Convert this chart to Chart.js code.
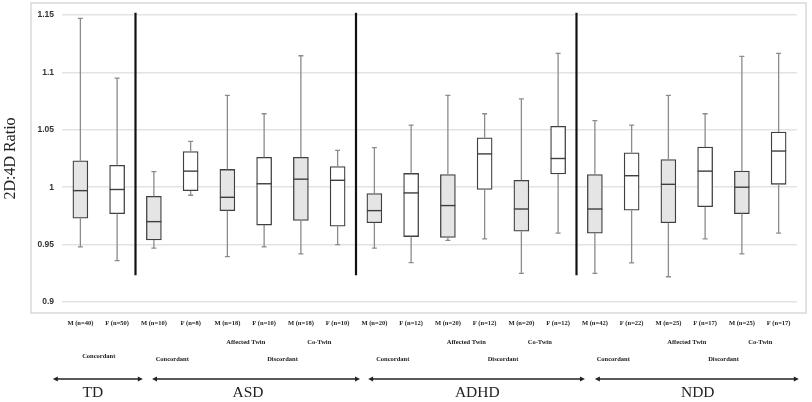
<!DOCTYPE html>
<html>
<head>
<meta charset="utf-8">
<script src="https://cdn.jsdelivr.net/npm/chart.js@4"></script>
<style>
  html, body { margin: 0; padding: 0; background: #fff; }
  #wrap { width: 812px; height: 402px; position: relative; }
</style>
</head>
<body>
<div id="wrap"><canvas id="myChart"></canvas></div>
<script>
// data
const categories = [
  "M (n=40)", "F (n=50)",
  "M (n=10)", "F (n=8)", "M (n=18)", "F (n=10)", "M (n=18)", "F (n=10)",
  "M (n=20)", "F (n=12)", "M (n=20)", "F (n=12)", "M (n=20)", "F (n=12)",
  "M (n=42)", "F (n=22)", "M (n=25)", "F (n=17)", "M (n=25)", "F (n=17)"
];
const whiskerLow = [0.948, 0.936, 0.947, 0.993, 0.9395, 0.948, 0.942, 0.950,
  0.947, 0.9343, 0.9537, 0.955, 0.925, 0.960, 0.925, 0.934, 0.922, 0.955, 0.942, 0.960];
const q1 = [0.973, 0.977, 0.954, 0.997, 0.9796, 0.967, 0.971, 0.966,
  0.969, 0.957, 0.9563, 0.998, 0.9616, 1.0115, 0.960, 0.980, 0.969, 0.983, 0.977, 1.0025];
const median = [0.997, 0.998, 0.970, 1.014, 0.9912, 1.003, 1.007, 1.006,
  0.9796, 0.995, 0.984, 1.029, 0.981, 1.025, 0.981, 1.010, 1.0025, 1.014, 1.000, 1.0315];
const q3 = [1.023, 1.019, 0.992, 1.031, 1.0155, 1.026, 1.026, 1.018,
  0.9944, 1.012, 1.011, 1.043, 1.006, 1.053, 1.011, 1.030, 1.024, 1.035, 1.014, 1.048];
const whiskerHigh = [1.147, 1.095, 1.0135, 1.040, 1.080, 1.064, 1.1145, 1.032,
  1.0344, 1.054, 1.080, 1.064, 1.077, 1.1166, 1.058, 1.054, 1.080, 1.064, 1.114, 1.1166];
const yTicks = [0.9, 0.95, 1, 1.05, 1.1, 1.15];

// annotation rows below the axis (text + category index range)
const twinLabels = [
  ["Affected Twin", 4, 5], ["Co-Twin", 6, 7],
  ["Affected Twin", 10, 11], ["Co-Twin", 12, 13],
  ["Affected Twin", 16, 17], ["Co-Twin", 18, 19]
];
const pairLabels = [
  ["Concordant", 0, 1], ["Concordant", 2, 3], ["Discordant", 4, 7],
  ["Concordant", 8, 9], ["Discordant", 10, 13],
  ["Concordant", 14, 15], ["Discordant", 16, 19]
];
const groups = ["TD", "ASD", "ADHD", "NDD"];
const groupBreaks = [1, 7, 13]; // separator after these indices

// layout of arrows/labels in category units
const arrowSpans = [[-0.75, 1.7], [1.95, 7.61], [7.83, 13.73], [14.0, 19.55]];
const groupLabelPos = [0.34, 4.56, 10.8, 16.8];

const boxFill = categories.map((c) => (c[0] === "M" ? "#e5e5e5" : "#ffffff"));

const extras = {
  id: "extras",
  beforeDraw(chart) {
    const ctx = chart.ctx;
    ctx.save();
    ctx.fillStyle = "#fff";
    ctx.fillRect(0, 0, chart.width, chart.height);
    ctx.strokeStyle = "#d9d9d9";
    ctx.lineWidth = 1.5;
    ctx.strokeRect(31, 3, 775, 310);
    ctx.restore();
  },
  afterDatasetsDraw(chart) {
    const { ctx, scales } = chart;
    const x = scales.x, y = scales.y;
    const bars = chart.getDatasetMeta(0).data;
    ctx.save();
    // whiskers
    ctx.strokeStyle = "#8c8c8c";
    ctx.lineWidth = 1.3;
    categories.forEach((c, i) => {
      const cx = x.getPixelForValue(i);
      ctx.beginPath();
      ctx.moveTo(cx, y.getPixelForValue(q3[i]));
      ctx.lineTo(cx, y.getPixelForValue(whiskerHigh[i]));
      ctx.moveTo(cx, y.getPixelForValue(q1[i]));
      ctx.lineTo(cx, y.getPixelForValue(whiskerLow[i]));
      ctx.moveTo(cx - 2.5, y.getPixelForValue(whiskerHigh[i]));
      ctx.lineTo(cx + 2.5, y.getPixelForValue(whiskerHigh[i]));
      ctx.moveTo(cx - 2.5, y.getPixelForValue(whiskerLow[i]));
      ctx.lineTo(cx + 2.5, y.getPixelForValue(whiskerLow[i]));
      ctx.stroke();
    });
    // medians
    ctx.strokeStyle = "#3f3f3f";
    ctx.lineWidth = 1.4;
    categories.forEach((c, i) => {
      const cx = x.getPixelForValue(i);
      const w = bars[i].width / 2;
      const my = y.getPixelForValue(median[i]);
      ctx.beginPath();
      ctx.moveTo(cx - w, my);
      ctx.lineTo(cx + w, my);
      ctx.stroke();
    });
    // group separators
    ctx.strokeStyle = "#111";
    ctx.lineWidth = 2.2;
    groupBreaks.forEach((b) => {
      const sx = (x.getPixelForValue(b) + x.getPixelForValue(b + 1)) / 2;
      ctx.beginPath();
      ctx.moveTo(sx, y.getPixelForValue(1.152));
      ctx.lineTo(sx, y.getPixelForValue(0.9232));
      ctx.stroke();
    });
    ctx.restore();
  },
  afterDraw(chart) {
    const { ctx } = chart;
    const x = chart.scales.x;
    const step = x.getPixelForValue(1) - x.getPixelForValue(0);
    const px = (v) => x.getPixelForValue(0) + v * step;
    const mid = (a, b) => (x.getPixelForValue(a) + x.getPixelForValue(b)) / 2;
    ctx.save();
    ctx.fillStyle = "#222";
    ctx.textAlign = "center";
    ctx.textBaseline = "middle";
    ctx.font = 'bold 6.5px "Liberation Serif"';
    categories.forEach((c, i) => ctx.fillText(c, x.getPixelForValue(i), 323));
    twinLabels.forEach(([t, a, b]) => ctx.fillText(t, mid(a, b), 342.5));
    pairLabels.forEach(([t, a, b], k) => ctx.fillText(t, mid(a, b), k === 0 ? 356 : 359.5));
    // arrows
    ctx.strokeStyle = "#222";
    ctx.lineWidth = 1.6;
    arrowSpans.forEach(([a, b]) => {
      const x0 = px(a), x1 = px(b), ay = 379;
      ctx.beginPath();
      ctx.moveTo(x0 + 3, ay);
      ctx.lineTo(x1 - 3, ay);
      ctx.stroke();
      ctx.beginPath();
      ctx.moveTo(x0, ay);
      ctx.lineTo(x0 + 5, ay - 2.6);
      ctx.lineTo(x0 + 5, ay + 2.6);
      ctx.closePath();
      ctx.moveTo(x1, ay);
      ctx.lineTo(x1 - 5, ay - 2.6);
      ctx.lineTo(x1 - 5, ay + 2.6);
      ctx.closePath();
      ctx.fill();
    });
    ctx.font = '15.5px "Liberation Serif"';
    groups.forEach((g, k) => ctx.fillText(g, px(groupLabelPos[k]), 393));
    ctx.restore();
  }
};

const data = {
  labels: categories,
  datasets: [
    {
      label: "IQR",
      data: categories.map((c, i) => [q1[i], q3[i]]),
      backgroundColor: boxFill,
      borderColor: "#3f3f3f",
      borderWidth: 1.3,
      borderSkipped: false,
      barThickness: 15,
    },
  ],
};

const config = {
  type: "bar",
  data,
  options: {
    responsive: true,
    maintainAspectRatio: false,
    animation: false,
    layout: { padding: { left: 0, right: 15, top: 15, bottom: 100 } },
    plugins: { legend: { display: false }, tooltip: { enabled: false } },
    scales: {
      x: { display: false },
      y: {
        min: 0.9,
        max: 1.15,
        afterBuildTicks: (scale) => {
          scale.ticks = yTicks.map((v) => ({ value: v }));
        },
        afterFit: (scale) => {
          scale.width = 62;
        },
        ticks: {
          padding: 8,
          color: "#333",
          font: { family: '"Liberation Sans"', size: 8.5, weight: "bold" },
          callback: (v) => String(v),
        },
        grid: { color: "#e3e3e3", lineWidth: 1.5, drawTicks: false },
        border: { display: false },
        title: {
          display: true,
          text: "2D:4D Ratio",
          color: "#222",
          font: { family: '"Liberation Serif"', size: 16 },
          padding: { top: 1, bottom: 0 },
        },
      },
    },
  },
  plugins: [extras],
};

const myChart = new Chart(document.getElementById("myChart"), config);
</script>
</body>
</html>
